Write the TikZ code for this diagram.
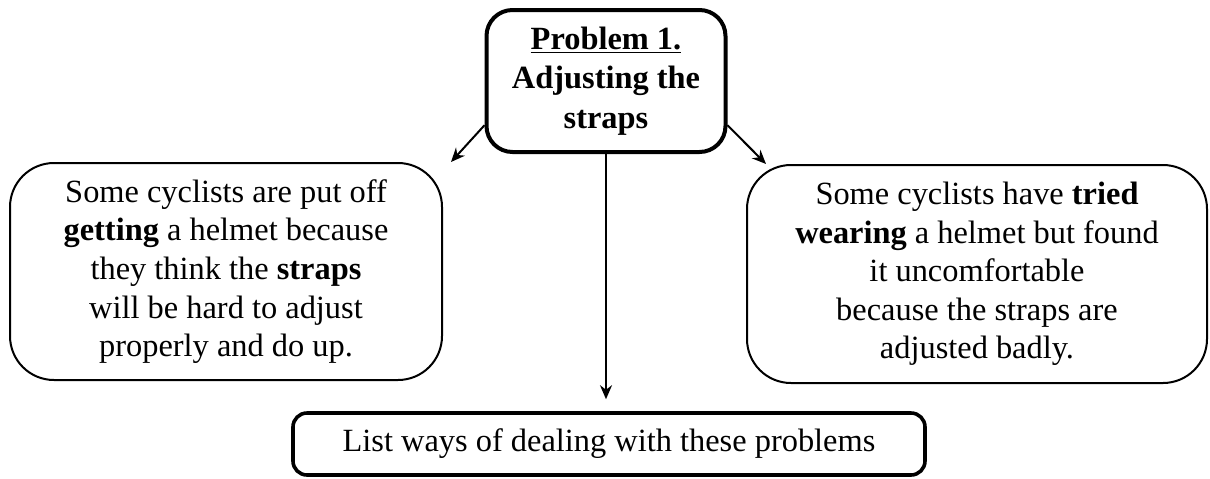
\documentclass[tikz,border=0pt]{standalone}
\usepackage{fontspec}
\setmainfont{Liberation Serif}
\usetikzlibrary{arrows.meta}
\begin{document}
\begin{tikzpicture}[
			x=0.5pt, y=-0.5pt,
			font=\fontsize{16.2}{19.3}\selectfont,
			problem/.style={draw, line width=2pt, rounded corners=13pt, align=center,
					minimum width=119.5pt, minimum height=71pt, inner sep=0pt,
					font=\fontsize{16.2}{19.8}\selectfont\bfseries},
			reason/.style={draw, line width=1pt, rounded corners=22pt, align=center,
					inner sep=0pt},
			task/.style={draw, line width=1.8pt, rounded corners=7pt, align=center,
					minimum width=316pt, minimum height=31pt, inner sep=0pt},
			link/.style={-{Stealth[length=7pt,width=6pt]}, line width=1pt}
		]
		\useasboundingbox (0,0) rectangle (1210,478);
		\node[problem] (prob) at (606,81) {\underline{Problem 1.}\\Adjusting the\\straps};
		\node[reason, minimum width=216pt, minimum height=108.5pt] (put off) at (226,271.5)
		{Some cyclists are put off\\\textbf{getting} a helmet because\\they think the \textbf{straps}\\will be hard to adjust\\properly and do up.};
		\node[reason, minimum width=230pt, minimum height=109pt] (tried) at (977,274)
		{Some cyclists have \textbf{tried}\\\textbf{wearing} a helmet but found\\it uncomfortable\\because the straps are\\adjusted badly.};
		\node[task] (list) at (609,444) {List ways of dealing with these problems};
		\coordinate (tried tip) at ([xshift=10pt]tried.north west);
		\draw[link] (prob.200) -- ([xshift=4pt]put off.north east);
		\draw[link] (prob.-20) -- (tried tip);
		\draw[link] (prob.south) -- ([yshift=6pt]prob.south |- list.north);
	\end{tikzpicture}
\end{document}
